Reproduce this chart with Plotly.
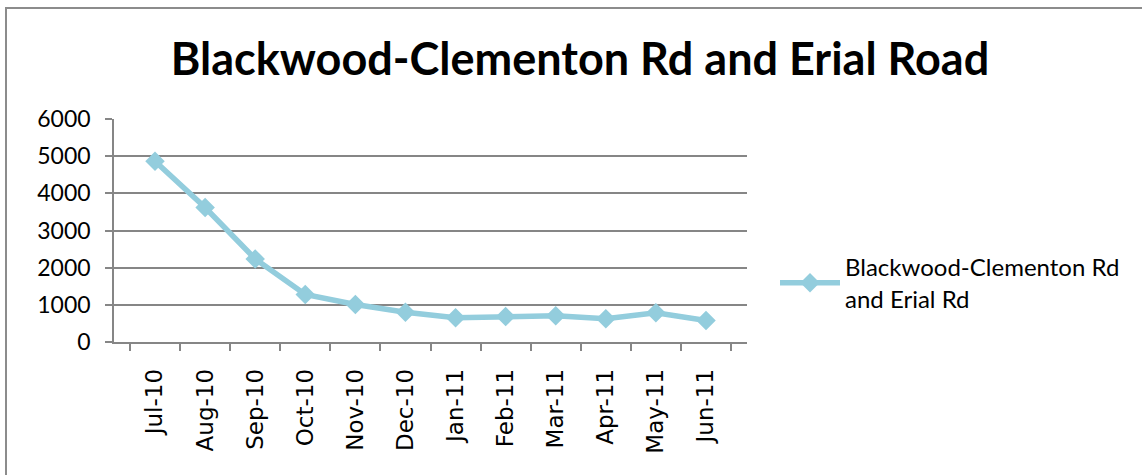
import plotly.graph_objects as go

months = ['Jul-10', 'Aug-10', 'Sep-10', 'Oct-10', 'Nov-10', 'Dec-10',
          'Jan-11', 'Feb-11', 'Mar-11', 'Apr-11', 'May-11', 'Jun-11']
counts = [4865, 3620, 2235, 1280, 1010, 800, 650, 685, 705, 625, 785, 580]
y_ticks = [0, 1000, 2000, 3000, 4000, 5000, 6000]

line_color = '#93CDDD'
grid_color = '#868686'

fig = go.Figure()
fig.add_trace(go.Scatter(
    x=months,
    y=counts,
    mode='lines+markers',
    name='Blackwood-Clementon Rd<br>and Erial Rd',
    line=dict(color=line_color, width=5.5),
    marker=dict(symbol='diamond', size=15, color=line_color),
))

# pixel helpers for placing things in paper coords
L, R, T, B = 114, 747, 119, 342
def px_x(p):
    return (p - L) / (R - L)
def px_y(p):
    return (B - p) / (B - T)

fig.update_layout(
    width=1142,
    height=475,
    margin=dict(l=L, r=1142 - R, t=T, b=475 - B),
    paper_bgcolor='white',
    plot_bgcolor='white',
    title=dict(
        text='<b>Blackwood-Clementon Rd and Erial Road</b>',
        font=dict(family='Lato', size=45, color='black'),
        x=580 / 1142, xanchor='center', y=1 - 59 / 475, yanchor='middle',
    ),
    showlegend=True,
    legend=dict(
        x=px_x(775), y=px_y(283), xanchor='left', yanchor='middle',
        font=dict(family='Lato', size=24, color='black'),
        itemwidth=60,
        bgcolor='rgba(0,0,0,0)',
    ),
    # outer chart frame (only top and left edges fall inside the picture)
    shapes=[dict(
        type='rect', xref='paper', yref='paper',
        x0=px_x(6), x1=px_x(1150), y0=px_y(485), y1=px_y(8),
        line=dict(color='#8C8C8C', width=2), layer='below',
    )],
)

fig.update_xaxes(
    type='category',
    tickangle=-90,
    tickfont=dict(family='DejaVu Sans', size=23, color='black'),
    ticklabelstandoff=16,
    showline=True, linecolor=grid_color, linewidth=1.5,
    ticks='outside', ticklen=7, tickcolor=grid_color, tickwidth=1.5,
    tickson='boundaries',
    showgrid=False,
    automargin=False,
)
fig.update_yaxes(
    range=[0, 6002],
    tickvals=y_ticks,
    tickfont=dict(family='Lato', size=23, color='black'),
    ticklabelstandoff=10,
    showgrid=True, gridcolor=grid_color, gridwidth=1.5,
    showline=True, linecolor=grid_color, linewidth=1.5,
    ticks='outside', ticklen=7, tickcolor=grid_color, tickwidth=1.5,
    zeroline=False,
    automargin=False,
)

# drop the default body margin so the figure sits at the page corner
fig.write_html('out.html', config={'displayModeBar': False},
               post_script="document.body.style.margin='0';")
